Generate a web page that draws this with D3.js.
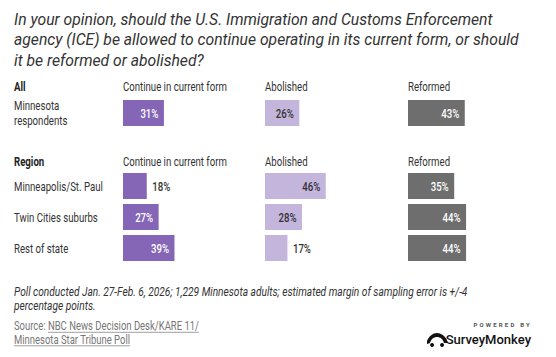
<!DOCTYPE html>
<html>
<head>
<meta charset="utf-8">
<script src="https://cdn.jsdelivr.net/npm/d3@7"></script>
<style>
  html, body { margin: 0; padding: 0; background: #fff; }
  svg { display: block; }
</style>
</head>
<body>
<script>
// ---- data ----
const title = [
  "In your opinion, should the U.S. Immigration and Customs Enforcement",
  "agency (ICE) be allowed to continue operating in its current form, or should",
  "it be reformed or abolished?"
];
const categories = ["Continue in current form", "Abolished", "Reformed"];
const allGroupLabel = "All";
const allRows = ["Minnesota|respondents"];
const allContinue = [31];
const allAbolished = [26];
const allReformed = [43];
const regionGroupLabel = "Region";
const regions = ["Minneapolis/St. Paul", "Twin Cities suburbs", "Rest of state"];
const regionContinue = [18, 27, 39];
const regionAbolished = [46, 28, 17];
const regionReformed = [35, 44, 44];
const footnote = [
  "Poll conducted Jan. 27-Feb. 6, 2026; 1,229 Minnesota adults; estimated margin of sampling error is +/-4",
  "percentage points."
];
const sourcePrefix = "Source:\u00A0";
const sourceLines = ["NBC News Decision Desk/KARE 11/", "Minnesota Star Tribune Poll"];

// ---- layout ----
const W = 556, H = 357;
const colors = ["#8465b6", "#c4b5dc", "#6e6e6e"];
const labelColors = ["#ffffff", "#333333", "#ffffff"];
const SX = 0.77; // horizontal condensing for the narrow UI font

const svg = d3.select("body").append("svg").attr("width", W).attr("height", H);

function ctext(parent, x, y, str, o = {}) {
  const g = parent.append("g").attr("transform", `translate(${x},${y}) scale(${o.sx ?? SX},1)`);
  const t = g.append("text")
    .attr("x", 0).attr("y", 0)
    .attr("font-family", o.family || "Roboto, sans-serif")
    .attr("font-size", o.size || 12.5)
    .attr("font-weight", o.weight || 400)
    .attr("font-style", o.style || "normal")
    .attr("fill", o.fill || "#333")
    .attr("text-anchor", o.anchor || "start")
    .text(str);
  return t;
}

// title
title.forEach((line, i) => {
  svg.append("text")
    .attr("x", 14).attr("y", 24.5 + i * 20.5)
    .attr("font-family", "Roboto, sans-serif")
    .attr("font-style", "italic")
    .attr("font-size", 15.7)
    .attr("fill", "#333")
    .text(line);
});

const x = d3.scaleLinear().domain([0, 100]).range([0, 132]);
const colX = d3.scaleOrdinal().domain(categories).range([123, 265, 408]);
const barH = 26;

function section(headerY, groupLabel, rowLabels, valueSets, rowY0, pitch) {
  ctext(svg, 14, headerY, groupLabel, { weight: 700, fill: "#222", size: 12.5 });
  categories.forEach(c => ctext(svg, colX(c), headerY, c, { size: 12.5 }));
  const y = d3.scaleBand().domain(rowLabels).range([rowY0, rowY0 + pitch * rowLabels.length]).paddingInner(0);
  rowLabels.forEach((lab, i) => {
    const yc = y(lab) + barH / 2;
    const parts = lab.split("|");
    parts.forEach((p, k) => {
      ctext(svg, 14, yc + 4.5 + (k - (parts.length - 1) / 2) * 15, p, { size: 12.5 });
    });
    categories.forEach((c, j) => {
      const v = valueSets[j][i];
      const bw = x(v);
      svg.append("rect")
        .attr("x", colX(c)).attr("y", y(lab))
        .attr("width", bw).attr("height", barH)
        .attr("fill", colors[j]);
      const inside = bw > 30;
      ctext(svg, inside ? colX(c) + bw - 5.5 : colX(c) + bw + 5.5, yc + 4.5, v + "%", {
        size: 12.5, weight: 500,
        anchor: inside ? "end" : "start",
        fill: inside ? labelColors[j] : "#333"
      });
    });
  });
}

section(91, allGroupLabel, allRows, [allContinue, allAbolished, allReformed], 100, 31);
section(166, regionGroupLabel, regions, [regionContinue, regionAbolished, regionReformed], 173, 31);

// footnote
footnote.forEach((line, i) => {
  ctext(svg, 14, 295.5 + i * 14.5, line, { size: 12.8, style: "italic", fill: "#333", sx: 0.795 });
});

// source
const SSX = 0.79;
const s1 = ctext(svg, 14, 330, sourcePrefix + sourceLines[0], { size: 12, fill: "#777", sx: SSX });
const pw = s1.node().getSubStringLength(0, sourcePrefix.length) * SSX;
const totalW = s1.node().getComputedTextLength() * SSX;
svg.append("line").attr("x1", 14 + pw).attr("x2", 14 + totalW).attr("y1", 332.3).attr("y2", 332.3)
  .attr("stroke", "#888").attr("stroke-width", 0.8);
const l2 = ctext(svg, 14, 343.5, sourceLines[1], { size: 12, fill: "#777", sx: SSX });
const l2w = l2.node().getComputedTextLength() * SSX;
svg.append("line").attr("x1", 14).attr("x2", 14 + l2w).attr("y1", 345.8).attr("y2", 345.8)
  .attr("stroke", "#888").attr("stroke-width", 0.8);

// SurveyMonkey badge
const logo = svg.append("g");
logo.append("text").attr("x", 532).attr("y", 327).attr("text-anchor", "end")
  .attr("font-family", "Roboto, sans-serif").attr("font-size", 6).attr("font-weight", 700)
  .attr("letter-spacing", 2.2).attr("fill", "#555").text("POWERED BY");
logo.append("text").attr("x", 531).attr("y", 343.5).attr("text-anchor", "end")
  .attr("font-family", "Roboto, sans-serif").attr("font-size", 13).attr("font-weight", 500)
  .attr("fill", "#111").text("SurveyMonkey");
logo.append("path")
  .attr("d", "M427,344 L427,341 C429,336 433,333 437,333 C441,333 445,336 447,340 L447,343 L444,343 C443,339 440,337 437,337 C434,337 431,339 430,343 Z M432,343 a2,2 0 1,0 0.1,0 Z M442,343 a2,2 0 1,0 0.1,0 Z")
  .attr("fill", "#111");
</script>
</body>
</html>
